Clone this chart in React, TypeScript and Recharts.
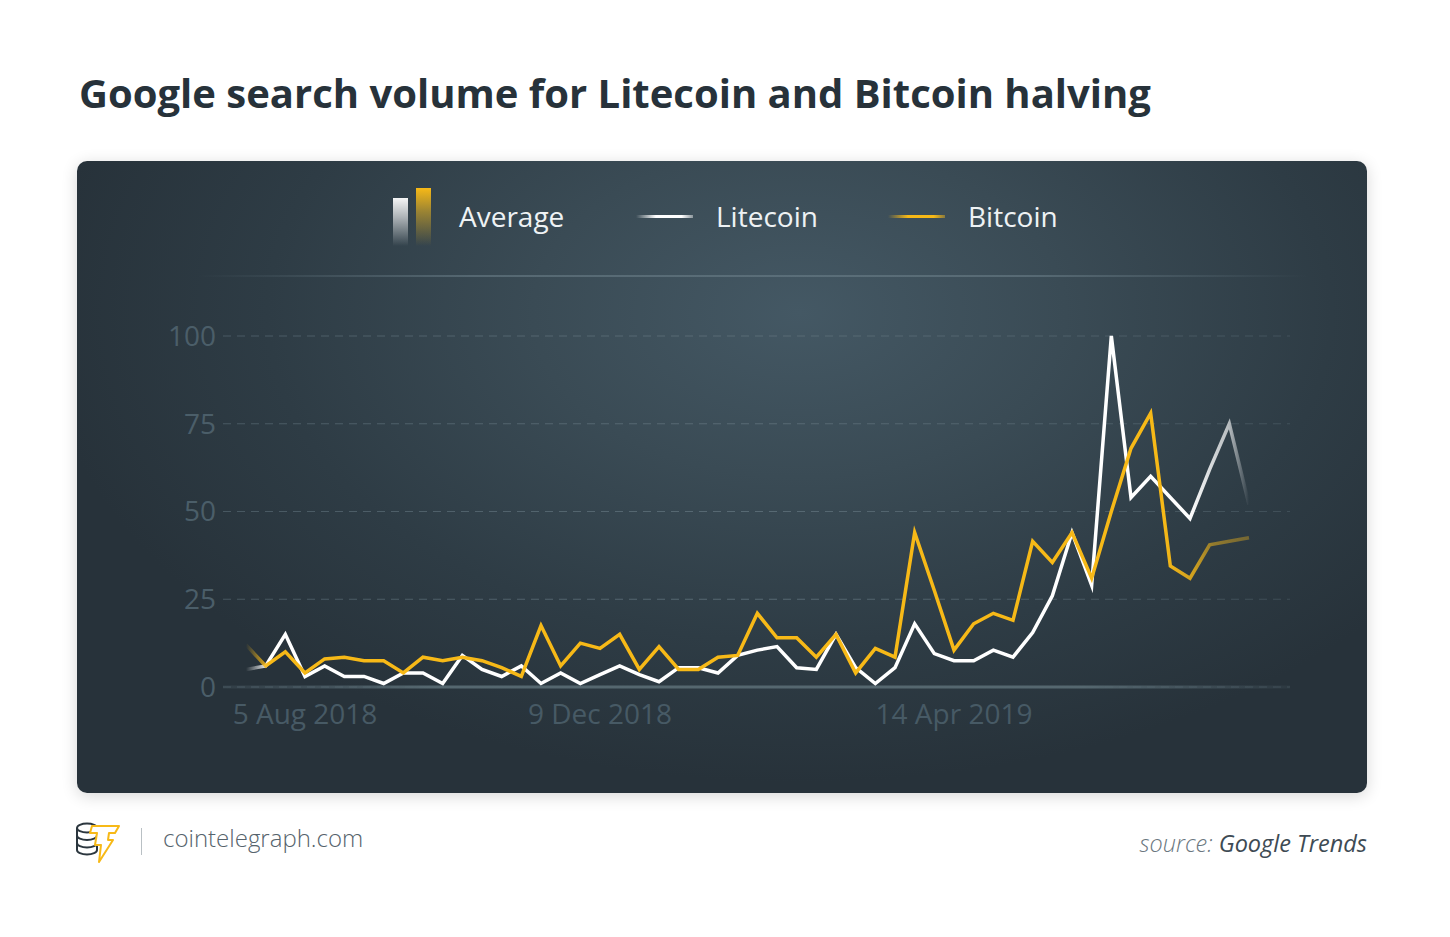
import React from "react";
import { LineChart, Line, XAxis, YAxis, CartesianGrid, ReferenceLine } from "recharts";

// ---- data (weekly Google Trends index) ----
const litecoin = [
  5, 6, 15, 3, 6, 3, 3, 1, 4, 4, 1, 9, 5, 3, 6, 1, 4, 1, 3.5, 6,
  3.5, 1.5, 5.5, 5.5, 4, 9, 10.5, 11.5, 5.5, 5, 15, 5.5, 1, 5.5, 18, 9.5,
  7.5, 7.5, 10.5, 8.5, 15.5, 26, 44, 29, 100, 54, 60, 54, 48, 62, 75, 52,
];
const bitcoin = [
  12, 6, 10, 4, 8, 8.5, 7.5, 7.5, 4, 8.5, 7.5, 8.5, 7.5, 5.5, 3, 17.5, 6, 12.5, 11, 15,
  5, 11.5, 5, 5, 8.5, 9, 21, 14, 14, 8.5, 15, 4, 11, 8.5, 44, 27.5,
  10.5, 18, 21, 19, 41.5, 35.5, 44, 31, 50, 68, 78, 34.5, 31, 40.5, 41.5, 42.5,
];
const xTickIdx = [3, 18, 36];
const xTickLabels = ["5 Aug 2018", "9 Dec 2018", "14 Apr 2019"];
const yTicks = [0, 25, 50, 75, 100];
const legendLabels = ["Average", "Litecoin", "Bitcoin"];

const data = litecoin.map((v, i) => ({ idx: i, litecoin: v, bitcoin: bitcoin[i] }));

const FONT = "'Open Sans', 'Noto Sans', sans-serif";
const GOLD = "#f7b917";

const fmtX = (v: number) => {
  const k = xTickIdx.indexOf(v);
  return k >= 0 ? xTickLabels[k] : "";
};

function Logo() {
  return (
    <svg width="48" height="44" viewBox="0 0 48 44" style={{ position: "absolute", left: 75, top: 820 }}>
      <g fill="none" stroke="#2b363e" strokeWidth="2">
        <ellipse cx="12" cy="8" rx="10" ry="4.5" />
        <path d="M2 8 v22 a10 4.5 0 0 0 20 0 v-22" />
        <path d="M2 15.5 a10 4.5 0 0 0 20 0" />
        <path d="M2 23 a10 4.5 0 0 0 20 0" />
      </g>
      <path
        d="M17 6 L44 6 L40 13 L34 13 L33 20 L38 20 L24 42 L26 25 L20 25 L22 13 L15 13 Z"
        fill="#ffffff"
        stroke={GOLD}
        strokeWidth="2"
        strokeLinejoin="round"
      />
    </svg>
  );
}

export default function App() {
  return (
    <div style={{ position: "absolute", left: 0, top: 0, width: 1450, height: 937, background: "#ffffff", fontFamily: FONT, overflow: "hidden" }}>
      <div style={{ position: "absolute", left: 79, top: 73, fontSize: 40, lineHeight: "40px", fontWeight: 700, color: "#27323a", whiteSpace: "nowrap" }}>
        Google search volume for Litecoin and Bitcoin halving
      </div>

      <div
        style={{
          position: "absolute",
          left: 77,
          top: 161,
          width: 1290,
          height: 632,
          borderRadius: 10,
          overflow: "hidden",
          boxShadow: "0 3px 16px rgba(0,0,0,0.16)",
          background:
            "radial-gradient(ellipse 760px 470px at 56% 24%, #445864 0%, #3a4b55 35%, #2e3c45 70%, #27323a 100%)",
        }}
      >
        {/* legend */}
        <div style={{ position: "absolute", left: 316, top: 37, width: 15, height: 48, background: "linear-gradient(to bottom, rgba(255,255,255,0.95), rgba(255,255,255,0.6) 40%, rgba(255,255,255,0))" }} />
        <div style={{ position: "absolute", left: 339, top: 27, width: 15, height: 58, background: "linear-gradient(to bottom, rgba(247,185,23,1), rgba(200,160,40,0.7) 40%, rgba(150,130,60,0))" }} />
        <div style={{ position: "absolute", left: 382, top: 41, fontSize: 28, lineHeight: "28px", color: "#eef2f4", whiteSpace: "nowrap" }}>{legendLabels[0]}</div>
        <div style={{ position: "absolute", left: 559, top: 54, width: 57, height: 3, background: "linear-gradient(to right, rgba(255,255,255,0), #ffffff 35%, #ffffff 80%, rgba(255,255,255,0.4))" }} />
        <div style={{ position: "absolute", left: 639, top: 41, fontSize: 28, lineHeight: "28px", color: "#eef2f4", whiteSpace: "nowrap" }}>{legendLabels[1]}</div>
        <div style={{ position: "absolute", left: 811, top: 54, width: 57, height: 3, background: `linear-gradient(to right, rgba(247,185,23,0), ${GOLD} 35%, ${GOLD} 80%, rgba(247,185,23,0.4))` }} />
        <div style={{ position: "absolute", left: 891, top: 41, fontSize: 28, lineHeight: "28px", color: "#eef2f4", whiteSpace: "nowrap" }}>{legendLabels[2]}</div>
        <div style={{ position: "absolute", left: 120, top: 114, width: 1110, height: 2, background: "linear-gradient(to right, rgba(110,130,140,0), rgba(110,130,140,0.55) 25%, rgba(110,130,140,0.55) 75%, rgba(110,130,140,0))" }} />

        <div style={{ position: "absolute", left: 0, top: 0 }}>
          <LineChart width={1290} height={632} data={data} margin={{ top: 175, right: 77, bottom: 56, left: 86 }}>
            <defs>
              <linearGradient id="ltcGrad" gradientUnits="userSpaceOnUse" x1="169" y1="0" x2="1172" y2="0">
                <stop offset="0" stopColor="#ffffff" stopOpacity="0" />
                <stop offset="0.022" stopColor="#ffffff" stopOpacity="1" />
                <stop offset="0.94" stopColor="#ffffff" stopOpacity="1" />
                <stop offset="0.98" stopColor="#ffffff" stopOpacity="0.65" />
                <stop offset="1" stopColor="#ffffff" stopOpacity="0" />
              </linearGradient>
              <linearGradient id="btcGrad" gradientUnits="userSpaceOnUse" x1="169" y1="0" x2="1172" y2="0">
                <stop offset="0" stopColor={GOLD} stopOpacity="0" />
                <stop offset="0.022" stopColor={GOLD} stopOpacity="1" />
                <stop offset="0.915" stopColor={GOLD} stopOpacity="1" />
                <stop offset="0.945" stopColor={GOLD} stopOpacity="0.8" />
                <stop offset="0.965" stopColor={GOLD} stopOpacity="0.5" />
                <stop offset="1" stopColor={GOLD} stopOpacity="0.35" />
              </linearGradient>
              <linearGradient id="gridGrad" gradientUnits="userSpaceOnUse" x1="146" y1="0" x2="1213" y2="0">
                <stop offset="0" stopColor="#5b6d77" stopOpacity="0.6" />
                <stop offset="0.5" stopColor="#5b6d77" stopOpacity="0.9" />
                <stop offset="1" stopColor="#5b6d77" stopOpacity="0.4" />
              </linearGradient>
              <linearGradient id="zeroGrad" gradientUnits="userSpaceOnUse" x1="133" y1="0" x2="1225" y2="0">
                <stop offset="0" stopColor="#4f616b" stopOpacity="0.2" />
                <stop offset="0.2" stopColor="#55676f" stopOpacity="1" />
                <stop offset="0.8" stopColor="#55676f" stopOpacity="1" />
                <stop offset="1" stopColor="#4f616b" stopOpacity="0.1" />
              </linearGradient>
            </defs>
            <CartesianGrid vertical={false} stroke="url(#gridGrad)" strokeDasharray="8 6" />
            <XAxis
              type="number"
              dataKey="idx"
              domain={[0, 51]}
              ticks={xTickIdx}
              interval={0}
              tickFormatter={fmtX}
              padding={{ left: 23, right: 41 }}
              axisLine={false}
              tickLine={false}
              tickSize={0}
              tickMargin={17}
              height={50}
              tick={{ fill: "#475a65", fontSize: 28, fontFamily: FONT }}
            />
            <YAxis
              domain={[0, 100]}
              ticks={yTicks}
              interval={0}
              axisLine={false}
              tickLine={false}
              tickSize={0}
              tickMargin={7}
              width={60}
              tick={{ fill: "#4b5e69", fontSize: 28, fontFamily: FONT }}
            />
            <ReferenceLine y={0} stroke="url(#zeroGrad)" strokeWidth={3} />
            <Line
              type="linear"
              dataKey="litecoin"
              stroke="url(#ltcGrad)"
              strokeWidth={3.5}
              strokeLinejoin="miter"
              strokeMiterlimit={10}
              dot={false}
              activeDot={false}
              isAnimationActive={false}
            />
            <Line
              type="linear"
              dataKey="bitcoin"
              stroke="url(#btcGrad)"
              strokeWidth={3.5}
              strokeLinejoin="miter"
              strokeMiterlimit={10}
              dot={false}
              activeDot={false}
              isAnimationActive={false}
            />
          </LineChart>
        </div>
      </div>

      {/* footer */}
      <Logo />
      <div style={{ position: "absolute", left: 141, top: 828, width: 1, height: 27, background: "#b9c0c4" }} />
      <div style={{ position: "absolute", left: 163, top: 826, fontSize: 24, lineHeight: "24px", fontWeight: 300, color: "#56636c", whiteSpace: "nowrap" }}>
        cointelegraph.com
      </div>
      <div style={{ position: "absolute", right: 1450 - 1367, top: 831, fontSize: 23.5, lineHeight: "24px", fontStyle: "italic", whiteSpace: "nowrap" }}>
        <span style={{ color: "#6b7780", fontWeight: 300 }}>source: </span>
        <span style={{ color: "#3e4b54" }}>Google Trends</span>
      </div>
    </div>
  );
}
